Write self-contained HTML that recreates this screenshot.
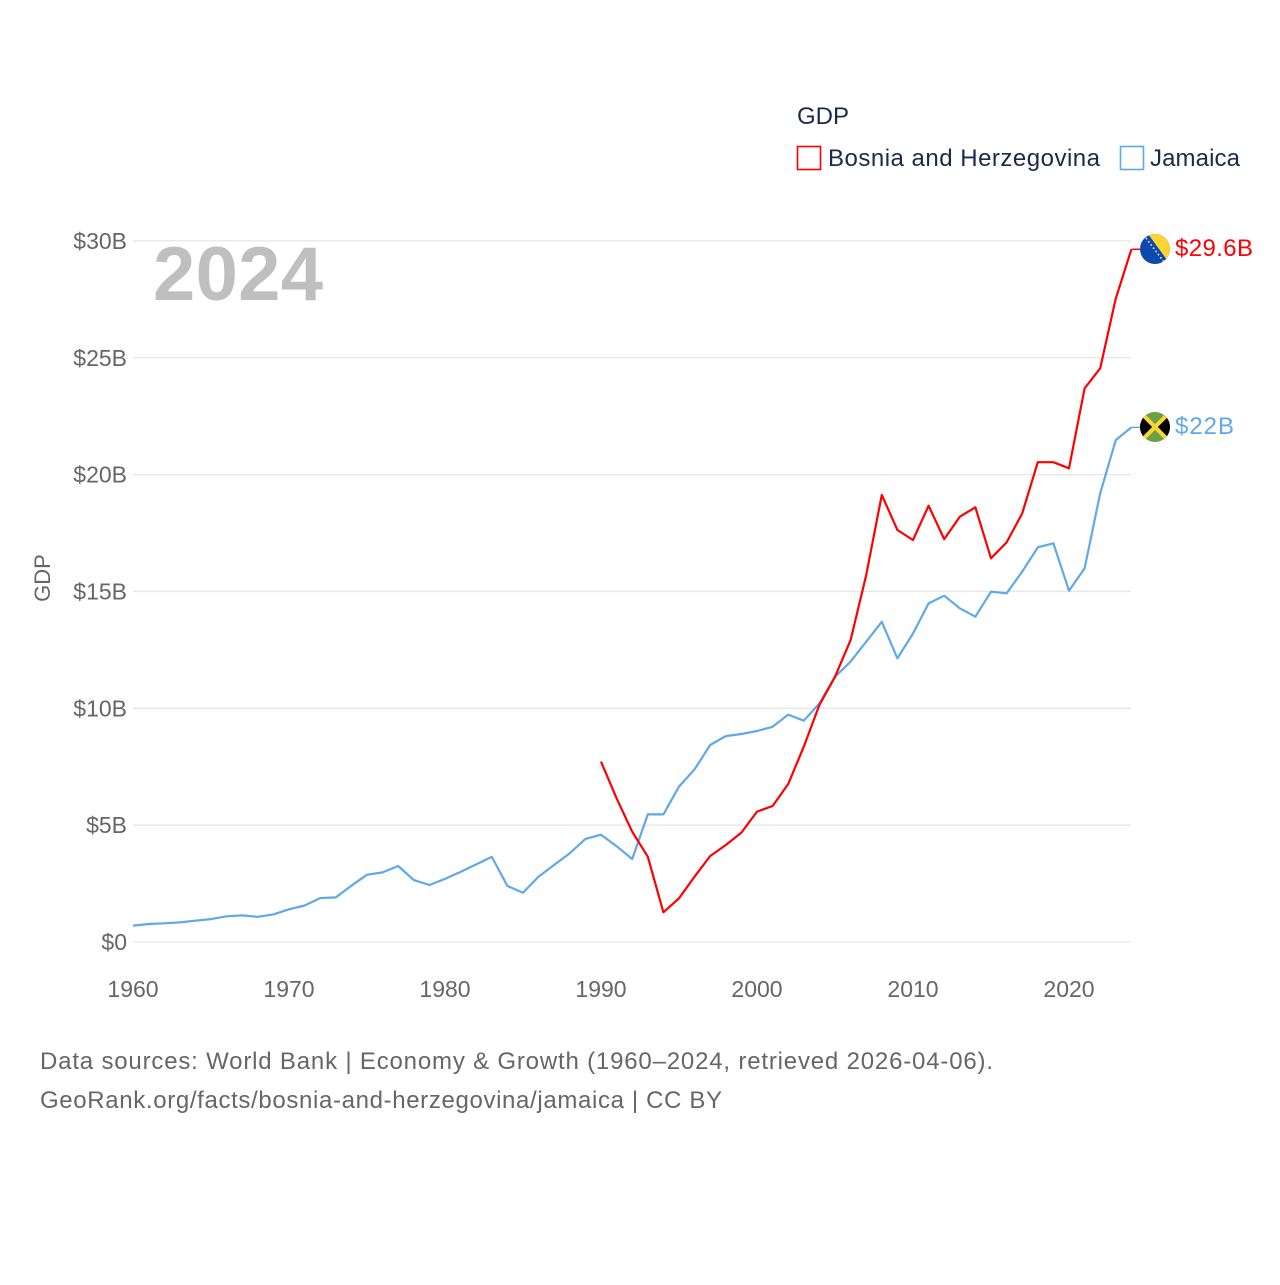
<!DOCTYPE html>
<html><head><meta charset="utf-8"><style>
body{margin:0;background:#fff;width:1280px;height:1280px;overflow:hidden;font-family:"Liberation Sans",sans-serif}
</style></head><body>
<svg id="chart" width="1280" height="1280" viewBox="0 0 1280 1280" font-family="Liberation Sans, sans-serif">
<g id="grid"></g>
<g id="yaxis"></g>
<g id="xaxis"></g>
<text x="153" y="300" font-size="76" font-weight="bold" fill="#bfbfbf" textLength="170">2024</text>
<text transform="translate(50,578) rotate(-90)" text-anchor="middle" font-size="22" fill="#666">GDP</text>
<g>
<text x="797" y="124" font-size="24" fill="#1a2a4a">GDP</text>
<rect x="797.5" y="146.5" width="23" height="23" fill="none" stroke="#ff0000" stroke-width="1.6"/>
<text x="828" y="166" font-size="24" fill="#1a2a4a" textLength="272">Bosnia and Herzegovina</text>
<rect x="1120.5" y="146.5" width="23" height="23" fill="none" stroke="#5ea9ea" stroke-width="1.6"/>
<text x="1150" y="166" font-size="24" fill="#1a2a4a" textLength="90">Jamaica</text>
</g>
<g id="series"></g>
<g>
<clipPath id="cb"><circle cx="1155" cy="249" r="15"/></clipPath>
<g clip-path="url(#cb)"><rect x="1140" y="234" width="30" height="30" fill="#0d47b0"/><polygon points="1148,234 1170,234 1170,264" fill="#fcd535"/><line x1="1146" y1="238" x2="1164" y2="262" stroke="#fff" stroke-width="1.5" stroke-dasharray="1.5 2.5"/></g>
</g>
<g>
<clipPath id="cj"><circle cx="1155" cy="427" r="15"/></clipPath>
<g clip-path="url(#cj)"><rect x="1140" y="412" width="30" height="30" fill="#6aa142"/><polygon points="1140,412 1155,427 1140,442" fill="#000"/><polygon points="1170,412 1155,427 1170,442" fill="#000"/><line x1="1140" y1="412" x2="1170" y2="442" stroke="#fcd535" stroke-width="4"/><line x1="1170" y1="412" x2="1140" y2="442" stroke="#fcd535" stroke-width="4"/></g>
</g>
<text x="1175" y="256" font-size="24" fill="#ff0000" textLength="78">$29.6B</text>
<text x="1175" y="434" font-size="24" fill="#5ea9ea" textLength="59">$22B</text>
<text x="40" y="1069" font-size="24" fill="#666" textLength="953">Data sources: World Bank | Economy &amp; Growth (1960–2024, retrieved 2026-04-06).</text>
<text x="40" y="1108" font-size="24" fill="#666" textLength="682">GeoRank.org/facts/bosnia-and-herzegovina/jamaica | CC BY</text>
</svg>
<script>
const jamaicaYears=[1960,1961,1962,1963,1964,1965,1966,1967,1968,1969,1970,1971,1972,1973,1974,1975,1976,1977,1978,1979,1980,1981,1982,1983,1984,1985,1986,1987,1988,1989,1990,1991,1992,1993,1994,1995,1996,1997,1998,1999,2000,2001,2002,2003,2004,2005,2006,2007,2008,2009,2010,2011,2012,2013,2014,2015,2016,2017,2018,2019,2020,2021,2022,2023,2024];
const jamaicaGDP=[0.70,0.77,0.80,0.84,0.91,0.98,1.10,1.14,1.08,1.18,1.40,1.56,1.88,1.91,2.41,2.88,2.98,3.25,2.65,2.44,2.70,3.00,3.32,3.64,2.40,2.11,2.80,3.30,3.80,4.41,4.59,4.10,3.55,5.46,5.46,6.65,7.39,8.43,8.81,8.90,9.03,9.21,9.73,9.47,10.21,11.35,12.00,12.85,13.70,12.14,13.20,14.49,14.82,14.28,13.92,14.99,14.92,15.85,16.89,17.06,15.03,15.99,19.20,21.48,22.02];
const bosniaYears=[1990,1991,1992,1993,1994,1995,1996,1997,1998,1999,2000,2001,2002,2003,2004,2005,2006,2007,2008,2009,2010,2011,2012,2013,2014,2015,2016,2017,2018,2019,2020,2021,2022,2023,2024];
const bosniaGDP=[7.72,6.15,4.72,3.65,1.27,1.87,2.80,3.68,4.15,4.68,5.58,5.82,6.76,8.36,10.14,11.35,12.92,15.70,19.13,17.63,17.20,18.67,17.24,18.20,18.60,16.42,17.10,18.34,20.53,20.53,20.27,23.69,24.55,27.54,29.64];
const yTicks=[0,5,10,15,20,25,30];
const yTickLabels=["$0","$5B","$10B","$15B","$20B","$25B","$30B"];
const xTicks=[1960,1970,1980,1990,2000,2010,2020];

const NS="http://www.w3.org/2000/svg";
const xs=yr=>133+(yr-1960)*15.6;
const ys=v=>942-v*23.37;
function mk(tag,attrs,parent){const e=document.createElementNS(NS,tag);for(const k in attrs)e.setAttribute(k,attrs[k]);parent.appendChild(e);return e;}
const grid=document.getElementById('grid'),ya=document.getElementById('yaxis'),xa=document.getElementById('xaxis'),ser=document.getElementById('series');
yTicks.forEach((t,i)=>{
  const l=mk('line',{x1:133,x2:1131,y1:ys(t),y2:ys(t),stroke:'#e6e6e6','stroke-width':1.3},grid);
  
  
  const tx=mk('text',{x:127,y:ys(t)+8,'text-anchor':'end','font-size':23,fill:'#666'},ya);
  tx.textContent=yTickLabels[i];
  
  
});
xTicks.forEach(t=>{
  const tx=mk('text',{x:xs(t),y:997,'text-anchor':'middle','font-size':23,fill:'#666'},xa);
  tx.textContent=t;
  
  
});
function line(years,vals,color,name){
  const pts=years.map((y,i)=>xs(y).toFixed(1)+','+ys(vals[i]).toFixed(1));
  const last=vals[vals.length-1];
  const p=mk('polyline',{points:pts.join(' '),fill:'none',stroke:color,'stroke-width':2.2,'stroke-linejoin':'round'},ser);
  
  
  const c=mk('line',{x1:xs(years[years.length-1]),x2:xs(years[years.length-1])+9,y1:ys(last),y2:ys(last),stroke:color,'stroke-width':1.5},ser);
  
  
}
line(jamaicaYears,jamaicaGDP,'#5ea9ea','line-jamaica');
line(bosniaYears,bosniaGDP,'#ff0000','line-bosnia');
</script>
</body></html>
